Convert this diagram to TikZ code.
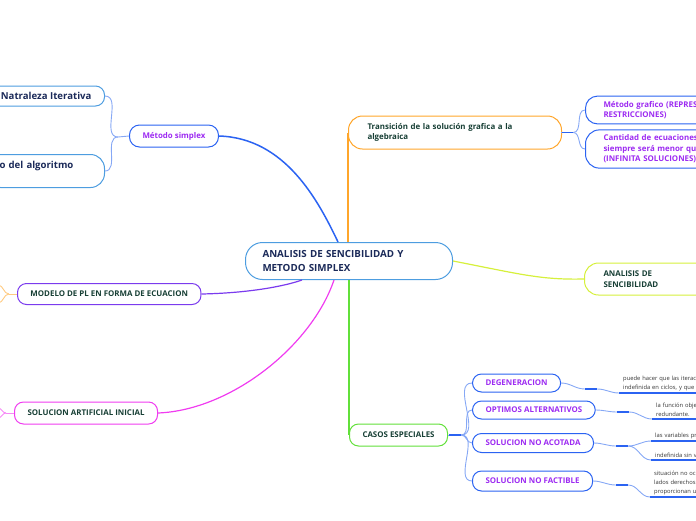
\documentclass[tikz,border=0pt]{standalone}
\usepackage{fontspec}
\setmainfont{Open Sans}
\usetikzlibrary{positioning}

\definecolor{cblue}{HTML}{2B63F2}
\definecolor{lblue}{HTML}{86A8F5}
\definecolor{skyb}{HTML}{4D9DE0}
\definecolor{purp}{HTML}{9D2BF2}
\definecolor{dkgreen}{HTML}{173F35}
\definecolor{navy}{HTML}{1B2A59}
\definecolor{corange}{HTML}{FFA62B}
\definecolor{lime}{HTML}{D6F03C}
\definecolor{cgreen}{HTML}{62E03A}
\definecolor{violet}{HTML}{7B3BEE}
\definecolor{magenta}{HTML}{F03CF0}

\begin{document}
\begin{tikzpicture}[
    x=1pt, y=-1pt,
    topic/.style={rectangle, draw, rounded corners=9pt, line width=1pt, fill=white, align=left, inner xsep=13pt, inner ysep=5pt, font=\bfseries\fontsize{7.9}{10.5}\selectfont, text=dkgreen},
    sub/.style={topic, draw=cblue, text=purp, anchor=west},
    note/.style={anchor=south west, inner xsep=4pt, inner ysep=2pt, text width=100pt, align=left, font=\fontsize{5.8}{9}\selectfont, text=black!80},
    knob/.style={rectangle, fill=cblue, minimum width=12pt, minimum height=1.8pt, inner sep=0pt},
    lnk/.style={draw=lblue, line width=0.9pt},
    uline/.style={draw=cblue, line width=1.2pt}
]
    \useasboundingbox (0,0) rectangle (696,520);

    \node[topic, draw=skyb, text=navy, anchor=west, minimum width=207pt, minimum height=37pt, inner xsep=17pt, text width=173pt, rounded corners=17pt, font=\bfseries\fontsize{9.8}{14}\selectfont] (root) at (245,261) {ANALISIS DE SENCIBILIDAD Y\\METODO SIMPLEX};

    \node[sub, rounded corners=10pt, minimum height=22pt] (ms) at (129,136) {Método simplex};
    \node[topic, draw=skyb, text=navy, anchor=east, minimum height=20pt, font=\bfseries\fontsize{9.6}{11}\selectfont] (ni) at (105,96) {Natraleza Iterativa};
    \node[topic, draw=skyb, text=navy, anchor=east, minimum height=33pt, text width=92pt, text depth=12pt, rounded corners=14pt, font=\bfseries\fontsize{9.6}{11}\selectfont] (alg) at (105,171) {o del algoritmo};

    \node[topic, draw=violet, anchor=west, minimum height=21pt] (mo) at (17,294) {MODELO DE PL EN FORMA DE ECUACION};
    \node[topic, draw=magenta, anchor=west, minimum height=22pt] (sai) at (14,413) {SOLUCION ARTIFICIAL INICIAL};

    \node[topic, draw=corange, anchor=west, minimum width=213pt, minimum height=33pt, inner xsep=19pt, text width=175pt, rounded corners=14pt] (tr) at (348,132.5) {Transición de la solución grafica a la\\algebraica};
    \node[sub, minimum width=150pt, minimum height=27pt, inner xsep=18pt, text width=114pt, rounded corners=12pt] (mg) at (585,110) {Método grafico (REPRES\\RESTRICCIONES)};
    \node[sub, minimum width=150pt, minimum height=38pt, inner xsep=18pt, text width=114pt, rounded corners=14pt] (cant) at (585,149) {Cantidad de ecuaciones\\siempre será menor que\\(INFINITA SOLUCIONES)};

    \node[topic, draw=lime, anchor=west, minimum width=140pt, minimum height=32pt, inner xsep=19pt, text width=102pt, rounded corners=14pt] (ads) at (584,279) {ANALISIS DE\\SENCIBILIDAD};

    \node[topic, draw=cgreen, anchor=west, minimum height=22pt] (ce) at (349,435) {CASOS ESPECIALES};
    \node[sub, minimum height=18pt] (deg) at (472,383) {DEGENERACION};
    \node[sub, minimum height=18pt] (opt) at (472,410) {OPTIMOS ALTERNATIVOS};
    \node[sub, minimum height=19pt] (aco) at (472,443) {SOLUCION NO ACOTADA};
    \node[sub, minimum height=20pt] (fac) at (472,481) {SOLUCION NO FACTIBLE};

    \node[knob] (k0) at (567,132.5) {};
    \node[knob] (kc) at (455,435) {};
    \node[knob] (k1) at (591,389) {};
    \node[knob] (k2) at (623,412) {};
    \node[knob] (k3) at (622,446) {};
    \node[knob] (k4) at (622,485) {};

    \node[note] (n1) at (619,393) {puede hacer que las iterac\\indefinida en ciclos, y que};
    \node[note] (n2) at (652,419) {la función obje\\redundante.};
    \node[note] (n3) at (651,441) {las variables pr};
    \node[note] (n5) at (651,460) {indefinida sin v};
    \node[note] (n4) at (650,497) {situación no oc\\lados derechos\\proporcionan u};

    \coordinate (msb) at (118,137);
    \coordinate (mob) at (9,294);
    \coordinate (mo1) at (-2,285);
    \coordinate (mo2) at (-2,303);
    \coordinate (saib) at (6,413);
    \coordinate (sai1) at (-2,408);
    \coordinate (sai2) at (-2,418);

    \draw[cblue, line width=1.5pt] (ms.east) .. controls (285,138) and (318,200) .. (root.north -| 338,0);
    \draw[violet, line width=1.2pt] (mo.east) .. controls (250,293) and (285,286) .. (root.south -| 302,0);
    \draw[magenta, line width=1.2pt] (sai.east) .. controls (232,410) and (312,345) .. (root.south -| 334,0);
    \draw[corange, line width=1.5pt] (root.north -| 348,0) -- (tr.west);
    \draw[cgreen, line width=1.2pt] (root.south -| 349,0) -- (ce.west);
    \draw[lime, line width=1.2pt] (root.east) .. controls (520,274) and (540,280) .. (ads.west);

    \draw[lnk] (ms.west) -- (msb);
    \draw[lnk] (msb) to[out=180, in=0] (ni.east);
    \draw[lnk] (msb) to[out=180, in=0] (alg.east);

    \draw[corange!60, line width=0.9pt] (mo.west) -- (mob);
    \draw[corange!60, line width=0.9pt] (mob) to[out=180, in=0] (mo1);
    \draw[corange!60, line width=0.9pt] (mob) to[out=180, in=0] (mo2);
    \draw[magenta!60, line width=0.9pt] (sai.west) -- (saib);
    \draw[magenta!60, line width=0.9pt] (saib) to[out=180, in=0] (sai1);
    \draw[magenta!60, line width=0.9pt] (saib) to[out=180, in=0] (sai2);

    \draw[lnk] (tr.east) -- (k0.west);
    \draw[lnk] (k0.east) to[out=0, in=180] (mg.west);
    \draw[lnk] (k0.east) to[out=0, in=180] (cant.west);

    \draw[lnk] (ce.east) -- (kc.west);
    \draw[lnk] (kc.east) to[out=0, in=180] (deg.west);
    \draw[lnk] (kc.east) to[out=0, in=180] (opt.west);
    \draw[lnk] (kc.east) to[out=0, in=180] (aco.west);
    \draw[lnk] (kc.east) to[out=0, in=180] (fac.west);

    \draw[lnk] (deg.east) to[out=0, in=180] (k1.west);
    \draw[lnk] (opt.east) to[out=0, in=180] (k2.west);
    \draw[lnk] (aco.east) to[out=0, in=180] (k3.west);
    \draw[lnk] (fac.east) to[out=0, in=180] (k4.west);
    \draw[lnk] (k1.east) to[out=0, in=180] (n1.south west);
    \draw[lnk] (k2.east) to[out=0, in=180] (n2.south west);
    \draw[lnk] (k3.east) to[out=0, in=180] (n3.south west);
    \draw[lnk] (k3.east) to[out=0, in=180] (n5.south west);
    \draw[lnk] (k4.east) to[out=0, in=180] (n4.south west);

    \draw[uline] (n1.south west) -- (n1.south east);
    \draw[uline] (n2.south west) -- (n2.south east);
    \draw[uline] (n3.south west) -- (n3.south east);
    \draw[uline] (n5.south west) -- (n5.south east);
    \draw[uline] (n4.south west) -- (n4.south east);
\end{tikzpicture}
\end{document}
